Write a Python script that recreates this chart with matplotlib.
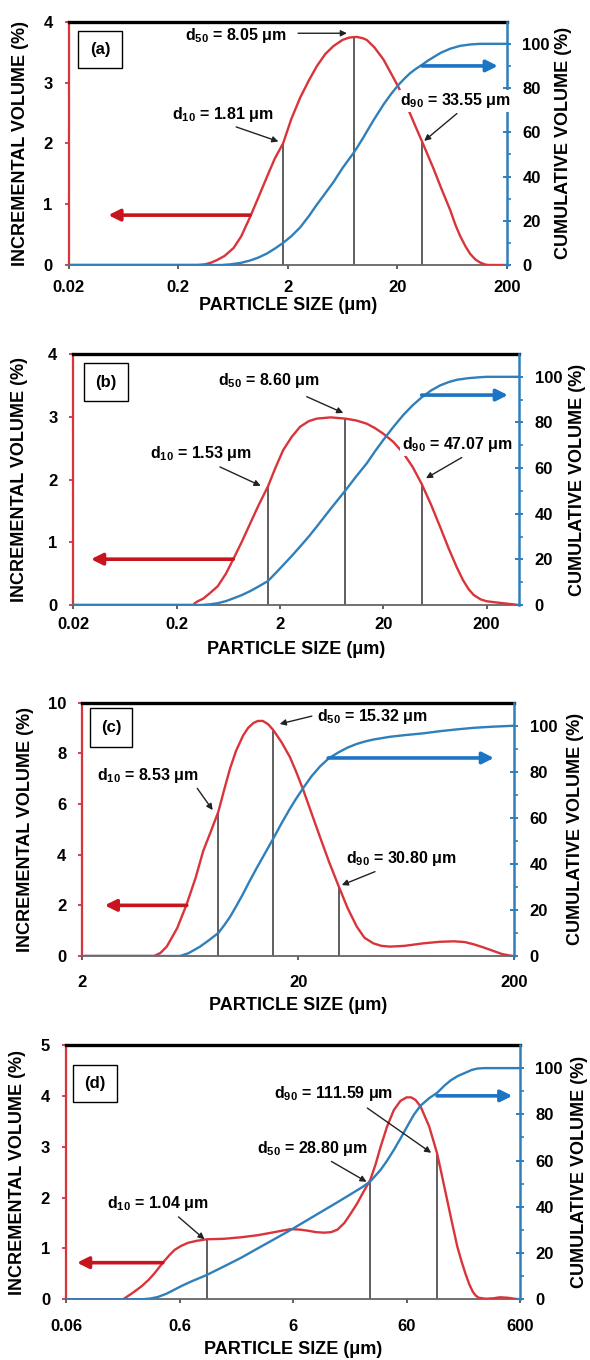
import matplotlib
matplotlib.use('Agg')
import matplotlib.pyplot as plt
from matplotlib.patches import Rectangle
from matplotlib.ticker import FixedLocator, NullFormatter

plt.rcParams['font.family'] = ['Liberation Sans', 'DejaVu Sans']
plt.rcParams['font.weight'] = 'bold'
plt.rcParams['mathtext.fontset'] = 'custom'
plt.rcParams['mathtext.rm'] = 'Liberation Sans:bold'
plt.rcParams['mathtext.it'] = 'Liberation Sans:bold'
plt.rcParams['mathtext.bf'] = 'Liberation Sans:bold'

# ---- panel (a) ----
a_x_red = [0.02, 0.30, 0.35, 0.40, 0.45, 0.53, 0.64, 0.75, 0.9, 1.07, 1.29, 1.52, 1.81, 2.15, 2.59, 3.1, 3.68, 4.4, 5.22, 6.3, 7.3, 8.5, 9.6, 10.5, 12.3, 14.9, 17.5, 20.5, 23.2, 26.2, 29.7, 33.55, 38, 42.8, 50, 60.7, 68, 75, 84, 92.5, 103, 114, 125, 135, 200]
a_red = [0, 0, 0.01, 0.04, 0.08, 0.15, 0.28, 0.47, 0.78, 1.1, 1.45, 1.75, 2.0, 2.4, 2.75, 3.03, 3.27, 3.47, 3.6, 3.7, 3.74, 3.75, 3.73, 3.70, 3.58, 3.38, 3.15, 2.92, 2.7, 2.48, 2.25, 2.03, 1.8, 1.58, 1.27, 0.9, 0.65, 0.47, 0.3, 0.18, 0.09, 0.04, 0.01, 0, 0]
a_x_cum = [0.02, 0.5, 0.6, 0.75, 0.9, 1.07, 1.29, 1.52, 1.81, 2.15, 2.59, 3.1, 3.68, 4.4, 5.22, 6.3, 8.05, 9.6, 10.5, 12.3, 14.9, 17.5, 20.5, 23.2, 26.2, 29.7, 33.55, 38, 42.8, 50, 60.7, 75, 92.5, 114, 200]
a_cum = [0, 0, 0.3, 1, 2, 3.3, 5.2, 7.4, 10, 13, 17, 22, 27.3, 32.5, 37.5, 43.8, 51, 57, 60.3, 66, 72.5, 77.3, 81.5, 84.3, 86.8, 88.8, 90.5, 92.4, 94, 96, 97.8, 99.1, 99.7, 100, 100]
a_d = [1.81, 8.05, 33.55]
a_d_h = [2.0, 3.75, 2.03]
a_labels = ['d$_{10}$ = 1.81 μm', 'd$_{50}$ = 8.05 μm', 'd$_{90}$ = 33.55 μm']

# ---- panel (b) ----
b_x_red = [0.02, 0.29, 0.30, 0.32, 0.36, 0.42, 0.5, 0.6, 0.706, 0.85, 1.03, 1.25, 1.53, 1.8, 2.15, 2.6, 3.13, 3.8, 4.53, 6.2, 8.6, 11, 13.8, 16.6, 20, 25, 31.3, 38.5, 47.07, 58, 70.8, 86, 103, 118, 133, 150, 175, 200, 250, 320, 415]
b_red = [0, 0, 0.03, 0.06, 0.1, 0.19, 0.3, 0.5, 0.73, 1.0, 1.30, 1.6, 1.89, 2.18, 2.47, 2.68, 2.84, 2.93, 2.97, 2.99, 2.97, 2.94, 2.89, 2.82, 2.73, 2.6, 2.42, 2.2, 1.93, 1.6, 1.25, 0.9, 0.6, 0.4, 0.26, 0.16, 0.09, 0.06, 0.04, 0.02, 0]
b_x_cum = [0.02, 0.35, 0.42, 0.5, 0.6, 0.706, 0.85, 1.03, 1.25, 1.53, 1.8, 2.15, 2.6, 3.13, 3.8, 4.53, 6.2, 8.6, 11, 13.8, 16.6, 20, 25, 31.3, 38.5, 47.07, 58, 70.8, 86, 103, 133, 170, 200, 415]
b_cum = [0, 0, 0.3, 0.8, 1.7, 2.9, 4.3, 6.1, 8.2, 10.5, 13.8, 17.5, 21.5, 25.6, 30, 34.3, 42.2, 50.2, 56.5, 62, 67.3, 72.3, 78, 83.3, 87.5, 91, 94, 96.2, 97.7, 98.7, 99.4, 99.8, 100, 100]
b_d = [1.53, 8.60, 47.07]
b_d_h = [1.89, 2.97, 1.93]
b_labels = ['d$_{10}$ = 1.53 μm', 'd$_{50}$ = 8.60 μm', 'd$_{90}$ = 47.07 μm']

# ---- panel (c) ----
c_x_red = [2, 4.3, 4.6, 4.92, 5.5, 6.09, 6.7, 7.26, 7.9, 8.53, 9.1, 9.66, 10.3, 11.1, 11.7, 12.4, 13.0, 13.7, 14.5, 15.32, 16.7, 18.3, 19.6, 21.1, 23, 25.2, 27.8, 30.8, 33.8, 37.3, 40.5, 44.5, 48.5, 53.1, 62, 75.8, 90, 105, 118, 130, 145, 160, 175, 190, 200]
c_red = [0, 0, 0.12, 0.37, 1.1, 2.05, 3.1, 4.15, 4.95, 5.70, 6.6, 7.4, 8.1, 8.7, 9.0, 9.2, 9.28, 9.28, 9.15, 8.92, 8.45, 7.85, 7.25, 6.55, 5.65, 4.7, 3.7, 2.74, 1.9, 1.16, 0.72, 0.5, 0.4, 0.37, 0.4, 0.5, 0.56, 0.58, 0.55, 0.46, 0.33, 0.2, 0.08, 0.02, 0]
c_x_cum = [2, 5.67, 6.2, 7.0, 7.7, 8.53, 9.1, 9.66, 10.3, 11.1, 11.9, 12.8, 14, 15.32, 16.7, 18.3, 19.6, 21.1, 23, 25.2, 27.8, 30.8, 33.8, 37.3, 40.5, 44.5, 53.1, 62, 75.8, 90, 108, 130, 160, 200]
c_cum = [0, 0, 1.2, 4, 6.8, 10, 13.5, 17, 21.5, 27, 32.5, 38, 44.5, 51, 57.5, 64, 68.5, 73, 78, 82.3, 86, 88.5, 90.5, 92.1, 93.1, 94, 95.2, 95.9, 96.7, 97.6, 98.4, 99.1, 99.6, 100]
c_d = [8.53, 15.32, 30.80]
c_d_h = [5.70, 8.92, 2.74]
c_labels = ['d$_{10}$ = 8.53 μm', 'd$_{50}$ = 15.32 μm', 'd$_{90}$ = 30.80 μm']

# ---- panel (d) ----
d_x_red = [0.06, 0.191, 0.23, 0.276, 0.32, 0.361, 0.428, 0.49, 0.542, 0.62, 0.712, 0.85, 1.04, 1.49, 2.1, 2.93, 4.1, 5.73, 6.9, 8.04, 9.6, 11.3, 13, 14.8, 17, 19.4, 22, 24.6, 28.8, 32, 35.5, 40.5, 46.4, 53, 60, 66, 72, 79.9, 95, 111.59, 124, 137, 152, 168, 183, 198, 214, 230, 245, 260, 300, 350, 400, 470, 540, 600]
d_red = [0, 0, 0.12, 0.25, 0.38, 0.51, 0.72, 0.87, 0.97, 1.05, 1.11, 1.15, 1.18, 1.19, 1.22, 1.26, 1.32, 1.38, 1.37, 1.35, 1.32, 1.31, 1.32, 1.37, 1.5, 1.69, 1.88, 2.08, 2.35, 2.65, 3.0, 3.4, 3.72, 3.9, 3.97, 3.97, 3.92, 3.79, 3.4, 2.87, 2.4, 1.95, 1.48, 1.04, 0.75, 0.51, 0.3, 0.15, 0.07, 0.03, 0.01, 0.02, 0.04, 0.03, 0.01, 0]
d_x_cum = [0.06, 0.276, 0.33, 0.387, 0.46, 0.542, 0.64, 0.761, 0.9, 1.04, 1.49, 2.1, 2.93, 4.1, 5.73, 8.04, 11.3, 14.8, 19.4, 24.6, 28.8, 35.5, 40.5, 46.4, 53, 63, 70, 79.9, 95, 111.59, 130, 147, 170, 198, 225, 252, 290, 600]
d_cum = [0, 0, 0.3, 1.0, 2.4, 4.2, 6.0, 7.7, 9.2, 10.5, 14.3, 18, 22, 26, 30, 34.3, 38.6, 42, 45.5, 48.6, 51, 56, 60, 64.6, 69.5, 76.1, 80, 83.8, 87, 89.3, 92.5, 94.7, 96.6, 98, 99.2, 99.8, 100, 100]
d_d = [1.04, 28.80, 111.59]
d_d_h = [1.18, 2.35, 2.87]
d_labels = ['d$_{10}$ = 1.04 μm', 'd$_{50}$ = 28.80 μm', 'd$_{90}$ = 111.59 μm']

RED = '#d9343a'
BLUE = '#2f7fba'
W, H = 590.0, 1360.0


def box(px):
    # pixel box (left, top, right, bottom) -> figure fraction rect
    l, t, r, b = px
    return [l / W, 1 - b / H, (r - l) / W, (b - t) / H]


def panel(fig, rect, xlim, xticks, xticklabels, ymax, yticks, xr, yr, xc, yc,
          dvals, dh, labels, lab_pos, arr_pos, white, red_arrow, blue_arrow,
          tag, tag_box, xpad, xlab_y, ylab_x):
    ax = fig.add_axes(box(rect))
    ax2 = ax.twinx()
    ax.set_xscale('log')
    ax.set_xlim(xlim)
    ax.set_ylim(0, ymax)
    ax2.set_ylim(0, 110)

    ax.vlines(dvals, 0, dh, color='#333333', lw=1.1, zorder=2)
    ax.plot(xr, yr, color=RED, lw=1.7, zorder=3)
    ax2.plot(xc, yc, color=BLUE, lw=1.7, zorder=3)

    # axis styling
    ax.spines['left'].set_color(RED)
    ax.spines['left'].set_linewidth(1.6)
    ax.spines['top'].set_color('black')
    ax.spines['top'].set_linewidth(2.4)
    ax.spines['bottom'].set_color('#666666')
    ax.spines['bottom'].set_linewidth(1.3)
    ax.spines['right'].set_visible(False)
    for s in ['left', 'top', 'bottom']:
        ax2.spines[s].set_visible(False)
    ax2.spines['right'].set_color(BLUE)
    ax2.spines['right'].set_linewidth(1.8)

    ax.xaxis.set_major_locator(FixedLocator(xticks))
    ax.xaxis.set_minor_formatter(NullFormatter())
    ax.xaxis.set_minor_locator(FixedLocator([]))
    ax.set_xticklabels(xticklabels)
    ax.set_yticks(yticks)
    ax.tick_params(axis='x', direction='out', length=3, width=1.2, color='#444444',
                   pad=xpad, labelsize=12)
    ax.tick_params(axis='y', direction='out', length=3, width=1.3, color=RED,
                   pad=8.5, labelsize=12)
    ax2.set_yticks([0, 20, 40, 60, 80, 100])
    ax2.set_yticks([10, 30, 50, 70, 90], minor=True)
    ax2.tick_params(axis='y', which='major', direction='inout', length=6, width=1.4,
                    color=BLUE, pad=8, labelsize=12)
    ax2.tick_params(axis='y', which='minor', direction='out', length=3, width=1.2,
                    color=BLUE)

    ax.set_ylabel('INCREMENTAL VOLUME (%)', fontsize=13, fontweight='bold', va='center')
    ax2.set_ylabel('CUMULATIVE VOLUME (%)', fontsize=13, fontweight='bold', va='center')
    wpx = rect[2] - rect[0]
    hpx = rect[3] - rect[1]
    ax.yaxis.set_label_coords((ylab_x[0] - rect[0]) / wpx, 0.5)
    ax2.yaxis.set_label_coords((ylab_x[1] - rect[0]) / wpx, 0.5)
    ax.set_xlabel('PARTICLE SIZE (μm)', fontsize=13, fontweight='bold', va='center')
    ax.xaxis.set_label_coords(0.5, -(xlab_y - rect[3]) / hpx)

    # red / blue direction arrows
    ax.annotate('', xy=red_arrow[1], xytext=red_arrow[0],
                arrowprops=dict(arrowstyle='-|>', color='#c8141c', lw=2.6,
                                mutation_scale=17, shrinkA=0, shrinkB=0))
    ax2.annotate('', xy=blue_arrow[1], xytext=blue_arrow[0],
                 arrowprops=dict(arrowstyle='-|>', color='#1c74c4', lw=2.6,
                                 mutation_scale=17, shrinkA=0, shrinkB=0))

    # d10 / d50 / d90 labels, drawn on ax2 so they sit above everything
    for i in range(3):
        kw = {}
        if white[i]:
            kw['bbox'] = dict(facecolor='white', edgecolor='none', pad=1.0)
        ax2.text(lab_pos[i][0], lab_pos[i][1], labels[i], transform=ax.transData,
                 fontsize=11.5, fontweight='bold', ha='left', va='center',
                 zorder=6, **kw)
        ax2.annotate('', xy=arr_pos[i][1], xytext=arr_pos[i][0],
                     xycoords=ax.transData, textcoords=ax.transData,
                     arrowprops=dict(arrowstyle='-|>', color='#222222', lw=1.0,
                                     mutation_scale=9, shrinkA=0, shrinkB=0),
                     zorder=6)

    # panel tag box
    bx0, by0, bx1, by1 = tag_box
    ax2.add_patch(Rectangle((bx0, by0), bx1 - bx0, by1 - by0, transform=ax.transAxes,
                            facecolor='white', edgecolor='black', lw=1.0, zorder=5))
    ax2.text((bx0 + bx1) / 2, (by0 + by1) / 2, tag, transform=ax.transAxes,
             fontsize=12, fontweight='bold', ha='center', va='center', zorder=6)
    return ax, ax2


fig = plt.figure(figsize=(5.9, 13.6), dpi=100)

panel(fig, (68.7, 21.7, 507, 265), (0.02, 200), [0.02, 0.2, 2, 20, 200],
      ['0.02', '0.2', '2', '20', '200'], 4, [0, 1, 2, 3, 4],
      a_x_red, a_red, a_x_cum, a_cum, a_d, a_d_h, a_labels,
      [(0.175, 2.48), (0.231, 3.77), (21.2, 2.70)],
      [((0.675, 2.27), (1.64, 2.03)), ((2.48, 3.81), (6.92, 3.81)), ((69.8, 2.49), (35.1, 2.04))],
      [False, False, True],
      ((0.9, 0.82), (0.046, 0.82)), ((33.55, 90), (165, 90)),
      '(a)', (0.021, 0.808, 0.122, 0.963), 8, 306, (21, 564))

panel(fig, (73.4, 354, 519.3, 605), (0.02, 415), [0.02, 0.2, 2, 20, 200],
      ['0.02', '0.2', '2', '20', '200'], 4, [0, 1, 2, 3, 4],
      b_x_red, b_red, b_x_cum, b_cum, b_d, b_d_h, b_labels,
      [(0.110, 2.41), (0.506, 3.57), (30.1, 2.55)],
      [((0.525, 2.20), (1.30, 1.90)), ((3.63, 3.32), (8.2, 3.06)), ((115, 2.35), (51.8, 2.02))],
      [False, False, True],
      ((0.706, 0.73), (0.0296, 0.73)), ((47.07, 92), (322, 92)),
      '(b)', (0.023, 0.813, 0.122, 0.963), 5.5, 650, (20, 577))

panel(fig, (82.3, 702.7, 514.3, 956), (2, 200), [2, 20, 200],
      ['2', '20', '200'], 10, [0, 2, 4, 6, 8, 10],
      c_x_red, c_red, c_x_cum, c_cum, c_d, c_d_h, c_labels,
      [(2.35, 7.11), (24.3, 9.47), (33.2, 3.86)],
      [((6.81, 6.62), (8.03, 5.76)), ((23.1, 9.47), (16.4, 9.16)), ((45.3, 3.33), (31.8, 2.80))],
      [False, False, False],
      ((6.09, 2.0), (2.54, 2.0)), ((27.5, 86), (161, 86)),
      '(c)', (0.018, 0.826, 0.115, 0.979), 11, 1005, (25, 575))

panel(fig, (66, 1045, 520, 1299.3), (0.06, 600), [0.06, 0.6, 6, 60, 600],
      ['0.06', '0.6', '6', '60', '600'], 5, [0, 1, 2, 3, 4, 5],
      d_x_red, d_red, d_x_cum, d_cum, d_d, d_d_h, d_labels,
      [(0.139, 1.89), (2.89, 2.97), (4.06, 4.05)],
      [((0.588, 1.62), (0.996, 1.18)), ((13.1, 2.71), (26.7, 2.31)), ((27.1, 3.76), (99, 2.88))],
      [False, False, False],
      ((0.428, 0.72), (0.075, 0.72)), ((111.59, 88), (514, 88)),
      '(d)', (0.016, 0.775, 0.113, 0.921), 11, 1349, (18, 580))

fig.savefig('out.png', dpi=100)
